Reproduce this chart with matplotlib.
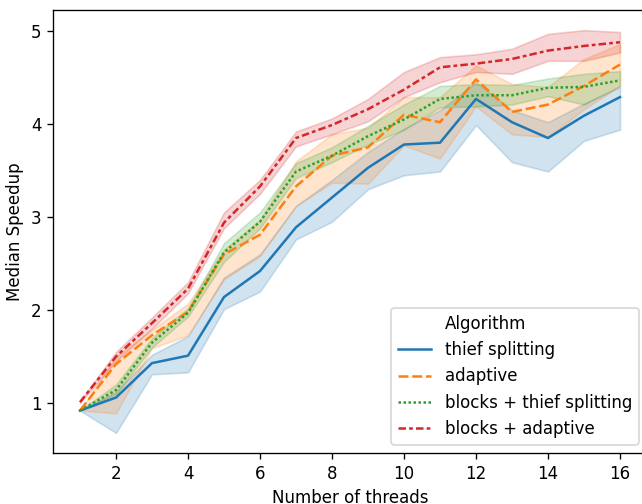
import matplotlib
matplotlib.use("Agg")
import matplotlib.pyplot as plt

# Число потоков
threads = list(range(1, 17))

# Медианное ускорение и доверительные интервалы для каждого алгоритма
thief = [0.92, 1.06, 1.43, 1.51, 2.14, 2.42, 2.89, 3.21, 3.53, 3.78, 3.80, 4.27, 4.02, 3.85, 4.09, 4.29]
thief_lo = [0.92, 0.68, 1.31, 1.33, 2.01, 2.20, 2.76, 2.95, 3.30, 3.45, 3.49, 3.99, 3.59, 3.49, 3.82, 3.94]
thief_hi = [0.92, 1.12, 1.52, 1.72, 2.35, 2.60, 3.12, 3.40, 3.70, 3.95, 4.15, 4.45, 4.15, 4.02, 4.22, 4.40]

adaptive = [0.92, 1.42, 1.73, 1.98, 2.60, 2.81, 3.33, 3.66, 3.75, 4.10, 4.02, 4.48, 4.13, 4.21, 4.41, 4.64]
adaptive_lo = [0.92, 0.89, 1.59, 1.73, 2.33, 2.58, 3.12, 3.37, 3.36, 3.77, 3.63, 4.19, 3.89, 3.86, 4.16, 4.41]
adaptive_hi = [0.92, 1.50, 1.79, 2.07, 2.65, 2.97, 3.60, 3.89, 3.96, 4.29, 4.29, 4.63, 4.43, 4.40, 4.70, 4.86]

blocks_thief = [0.92, 1.14, 1.65, 1.97, 2.62, 2.95, 3.49, 3.66, 3.87, 4.05, 4.27, 4.31, 4.31, 4.39, 4.40, 4.47]
blocks_thief_lo = [0.92, 1.10, 1.60, 1.93, 2.52, 2.88, 3.42, 3.59, 3.78, 3.94, 4.18, 4.19, 4.21, 4.30, 4.21, 4.41]
blocks_thief_hi = [0.92, 1.20, 1.70, 2.02, 2.72, 3.05, 3.58, 3.75, 3.98, 4.21, 4.41, 4.43, 4.42, 4.49, 4.54, 4.57]

blocks_adaptive = [1.01, 1.50, 1.86, 2.23, 2.94, 3.33, 3.85, 3.99, 4.16, 4.37, 4.61, 4.65, 4.70, 4.79, 4.84, 4.88]
blocks_adaptive_lo = [1.00, 1.45, 1.80, 2.18, 2.88, 3.25, 3.76, 3.89, 4.03, 4.29, 4.45, 4.56, 4.54, 4.68, 4.68, 4.77]
blocks_adaptive_hi = [1.02, 1.55, 1.92, 2.30, 3.05, 3.40, 3.92, 4.06, 4.27, 4.56, 4.72, 4.75, 4.81, 4.97, 5.01, 4.99]

names = ["thief splitting", "adaptive", "blocks + thief splitting", "blocks + adaptive"]
colors = ["#1f77b4", "#ff7f0e", "#2ca02c", "#d62728"]
dashes = [(None, None), (0, (4, 1.5)), (0, (1, 1)), (0, (3, 1.25, 1.5, 1.25))]

series = [
    (thief, thief_lo, thief_hi),
    (adaptive, adaptive_lo, adaptive_hi),
    (blocks_thief, blocks_thief_lo, blocks_thief_hi),
    (blocks_adaptive, blocks_adaptive_lo, blocks_adaptive_hi),
]

fig = plt.figure(figsize=(6.42 / 1.2, 5.04 / 1.2), dpi=120)
ax = fig.add_axes([53 / 642, 51 / 504, 594 / 642, 443 / 504])

# Невидимая строка-заголовок, как в легенде seaborn
ax.plot([], [], color="none", label="Algorithm")

for (med, lo, hi), name, c, d in zip(series, names, colors, dashes):
    ax.fill_between(threads, lo, hi, color=c, alpha=0.2, linewidth=1)
    if d[0] is None:
        ax.plot(threads, med, color=c, linewidth=1.5, label=name)
    else:
        ax.plot(threads, med, color=c, linewidth=1.5, linestyle=d, label=name)

ax.set_xticks(range(2, 17, 2))
ax.set_xlim(0.25, 16.75)
ax.set_xlabel("Number of threads")
ax.set_ylabel("Median Speedup")
ax.legend(loc="lower right")

fig.savefig("out.png", dpi=120)
